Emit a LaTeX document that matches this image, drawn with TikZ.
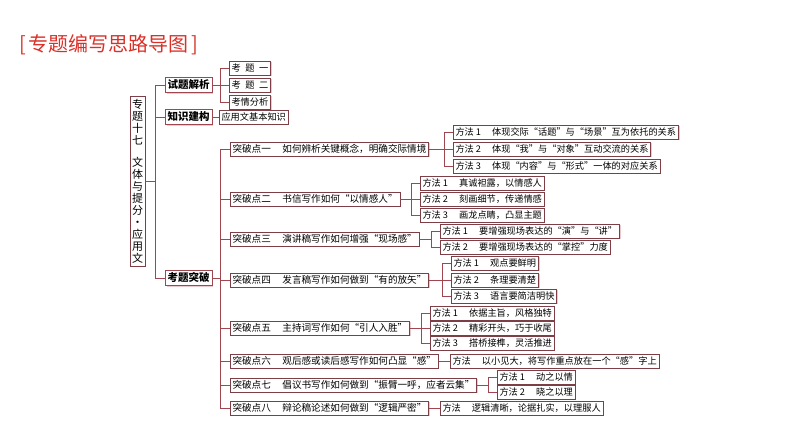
\documentclass[tikz,border=0pt]{standalone}
\usepackage{fontspec}
\setmainfont{Noto Sans CJK SC}
\usepackage{xcolor}
\usetikzlibrary{calc,shadows}
\definecolor{titleC}{RGB}{218,48,40}
\definecolor{lineC}{RGB}{160,70,78}
\definecolor{boxC}{RGB}{125,62,70}
\definecolor{shadowC}{RGB}{235,200,205}
\tikzset{
    x=1pt, y=-1pt, % pixel coordinates of the page
    box/.style={draw=boxC, fill=white, line width=0.6pt, anchor=west,
        font=\fontsize{9.2}{10}\selectfont, text height=8pt, text depth=1.2pt,
        inner xsep=2.2pt, inner ysep=2.6pt,
        drop shadow={shadow xshift=1.2pt, shadow yshift=-1.2pt, fill=shadowC, opacity=1}},
    pointbox/.style={box, font=\fontsize{9.6}{10}\selectfont},
    headbox/.style={box, draw=lineC, font=\fontsize{10.5}{11}\selectfont\bfseries,
        text height=8.8pt, text depth=1.4pt, inner xsep=2.3pt},
    link/.style={draw=lineC, line width=0.8pt},
}
\newcommand{\gap}{\hspace{1.2em}}

\begin{document}
\begin{tikzpicture}
\useasboundingbox (0,0) rectangle (794,447);
\node[text=titleC, font=\fontsize{20}{20}\selectfont, anchor=west, inner sep=0pt] (title) at (19,45) {[\hspace{3pt}专题编写思路导图\hspace{3pt}]};

% root
\node[box, anchor=center, align=center, font=\fontsize{11}{12}\selectfont, text height=, text depth=, inner xsep=2pt, inner ysep=3pt] (root) at (137.5,181)
    {专\\题\\十\\七\\[10pt]文\\体\\与\\提\\分\\·\\应\\用\\文};

% first level
\node[headbox] (sj) at (165,85) {试题解析};
\node[headbox] (zs) at (165,117) {知识建构};
\node[headbox] (kt) at (165,278) {考题突破};

\node[box] (sj-m1) at (229,68) {考\hspace{0.5em}题\hspace{0.5em}一};
\node[box] (sj-m2) at (229,85) {考\hspace{0.5em}题\hspace{0.5em}二};
\node[box] (sj-m3) at (229,102) {考情分析};
\node[box] (zs-m) at (219,117) {应用文基本知识};

% breakthrough points
\node[pointbox] (t1) at (230,149) {突破点一\gap 如何辨析关键概念，明确交际情境};
\node[pointbox] (t2) at (230,199) {突破点二\gap 书信写作如何“以情感人”};
\node[pointbox] (t3) at (230,239) {突破点三\gap 演讲稿写作如何增强“现场感”};
\node[pointbox] (t4) at (230,280) {突破点四\gap 发言稿写作如何做到“有的放矢”};
\node[pointbox] (t5) at (230,328) {突破点五\gap 主持词写作如何“引人入胜”};
\node[pointbox] (t6) at (230,361) {突破点六\gap 观后感或读后感写作如何凸显“感”};
\node[pointbox] (t7) at (230,385) {突破点七\gap 倡议书写作如何做到“振臂一呼，应者云集”};
\node[pointbox] (t8) at (230,408) {突破点八\gap 辩论稿论述如何做到“逻辑严密”};

% methods
\node[box] (t1-m1) at (453,132) {方法 1\gap 体现交际“话题”与“场景”互为依托的关系};
\node[box] (t1-m2) at (453,149) {方法 2\gap 体现“我”与“对象”互动交流的关系};
\node[box] (t1-m3) at (453,166) {方法 3\gap 体现“内容”与“形式”一体的对应关系};
\node[box] (t2-m1) at (420,183) {方法 1\gap 真诚袒露，以情感人};
\node[box] (t2-m2) at (420,199) {方法 2\gap 刻画细节，传递情感};
\node[box] (t2-m3) at (420,215) {方法 3\gap 画龙点睛，凸显主题};
\node[box] (t3-m1) at (440,231) {方法 1\gap 要增强现场表达的“演”与“讲”};
\node[box] (t3-m2) at (440,247) {方法 2\gap 要增强现场表达的“掌控”力度};
\node[box] (t4-m1) at (451,263) {方法 1\gap 观点要鲜明};
\node[box] (t4-m2) at (451,280) {方法 2\gap 条理要清楚};
\node[box] (t4-m3) at (451,296) {方法 3\gap 语言要简洁明快};
\node[box] (t5-m1) at (430,313) {方法 1\gap 依据主旨，风格独特};
\node[box] (t5-m2) at (430,328) {方法 2\gap 精彩开头，巧于收尾};
\node[box] (t5-m3) at (430,343) {方法 3\gap 搭桥接榫，灵活推进};
\node[box] (t6-m) at (450,361) {方法\gap 以小见大，将写作重点放在一个“感”字上};
\node[box] (t7-m1) at (497,377) {方法 1\gap 动之以情};
\node[box] (t7-m2) at (497,392) {方法 2\gap 晓之以理};
\node[box] (t8-m) at (440,408) {方法\gap 逻辑清晰，论据扎实，以理服人};

% connectors
\coordinate (b0) at ([xshift=-10pt]sj.west |- root.east);
\draw[link] (root.east) -- (b0);
\foreach \c in {sj,zs,kt} \draw[link] (b0) |- (\c.west);
\coordinate (bk) at ([xshift=-10pt]t1.west |- kt.east);
\draw[link] (kt.east) -- (bk);
\foreach \i in {1,...,8} \draw[link] (bk) |- (t\i.west);
\foreach \p/\n in {sj/3,t1/3,t2/3,t3/2,t4/3,t5/3,t7/2} {
    \coordinate (b) at ([xshift=-9pt]\p-m1.west |- \p.east);
    \draw[link] (\p.east) -- (b);
    \foreach \i in {1,...,\n} \draw[link] (b) |- (\p-m\i.west);
}
\foreach \p in {zs,t6,t8} \draw[link] (\p.east) -- (\p-m.west);
\end{tikzpicture}
\end{document}
